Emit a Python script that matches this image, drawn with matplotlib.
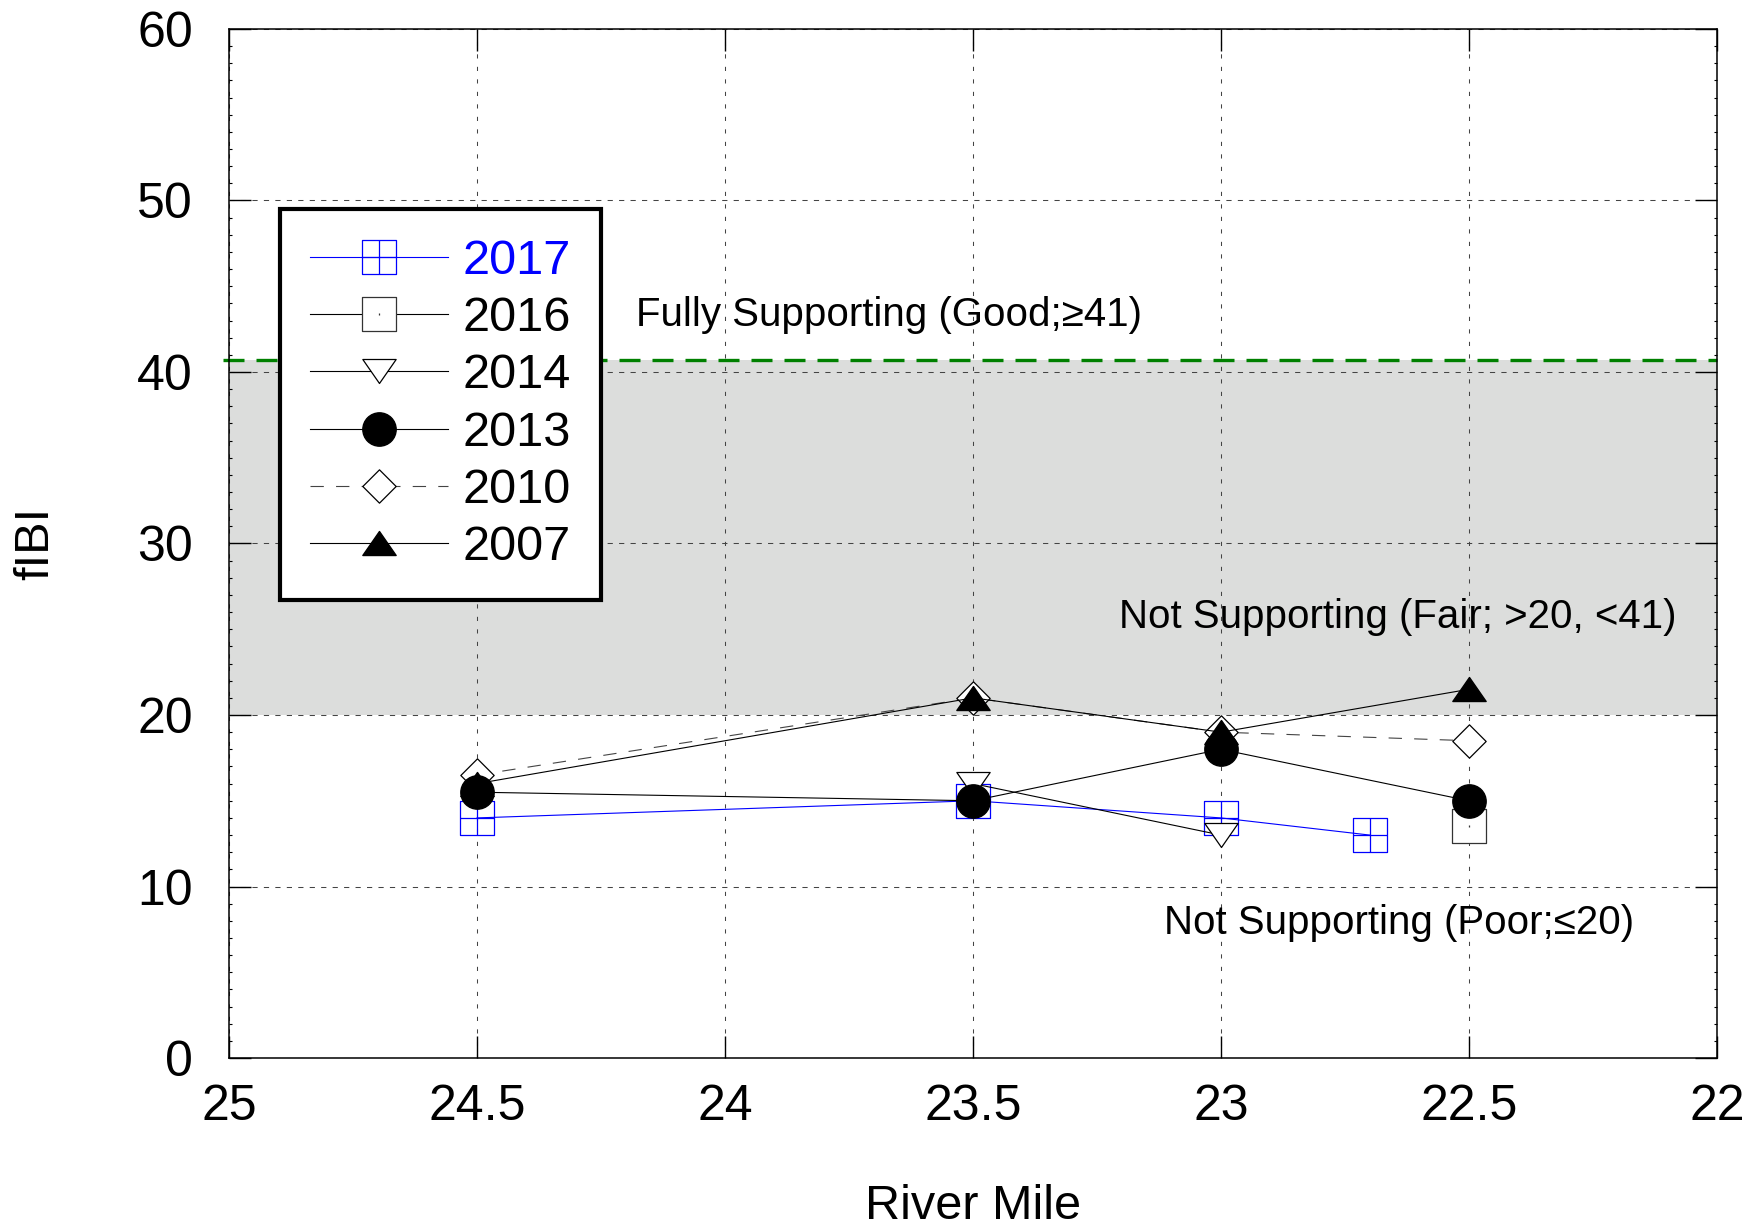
import numpy as np
import matplotlib
matplotlib.use("Agg")
import matplotlib.pyplot as plt
from matplotlib.path import Path
from matplotlib.ticker import MultipleLocator

plt.rcParams['font.family'] = ['Liberation Sans', 'DejaVu Sans']

# river mile / fIBI per year
rm_2017 = [24.5, 23.5, 23.0, 22.7]
ibi_2017 = [14.0, 15.0, 14.0, 13.0]
rm_2016 = [22.5]
ibi_2016 = [13.5]
rm_2014 = [23.5, 23.0]
ibi_2014 = [16.0, 13.0]
rm_2013 = [24.5, 23.5, 23.0, 22.5]
ibi_2013 = [15.5, 15.0, 18.0, 15.0]
rm_2010 = [24.5, 23.5, 23.0, 22.5]
ibi_2010 = [16.5, 21.0, 19.0, 18.5]
rm_2007 = [24.5, 23.5, 23.0, 22.5]
ibi_2007 = [16.0, 21.0, 19.0, 21.5]

xticks = [25, 24.5, 24, 23.5, 23, 22.5, 22]
xtick_labels = ['25', '24.5', '24', '23.5', '23', '22.5', '22']
yticks = [0, 10, 20, 30, 40, 50, 60]

good_line = 40.7
fair_low = 20

# custom markers
M, L, C = Path.MOVETO, Path.LINETO, Path.CLOSEPOLY
sq_plus = Path([(-1, -1), (1, -1), (1, 1), (-1, 1), (-1, -1),
                (-1, 0), (1, 0), (0, -1), (0, 1)],
               [M, L, L, L, C, M, L, M, L])
sq_dot = Path([(-1, -1), (1, -1), (1, 1), (-1, 1), (-1, -1),
               (0, -0.04), (0, 0.04)],
              [M, L, L, L, C, M, L])
tri_up = Path([(0, 0.72), (-1, -0.72), (1, -0.72), (0, 0.72)], [M, L, L, C])
tri_dn = Path([(0, -0.72), (-1, 0.72), (1, 0.72), (0, -0.72)], [M, L, L, C])
diamond = Path([(0, 1), (1, 0), (0, -1), (-1, 0), (0, 1)], [M, L, L, L, C])

fig = plt.figure(figsize=(17.5, 12.32), dpi=100)
ax = fig.add_axes([0.1309, 0.1412, 0.8502, 0.8353])

ax.axhspan(fair_low, good_line, color='#dcdddc', zorder=0.2, lw=0)
ax.axhline(good_line, xmin=-0.004, color='#008000', lw=2.4,
           dashes=(6.3, 3.6), zorder=1.5, clip_on=False)

ms = 24
ax.plot(rm_2017, ibi_2017, color='blue', lw=0.8, marker=sq_plus, ms=ms,
        mfc='none', mec='blue', mew=0.9, label='2017', zorder=2)
ax.plot(rm_2016, ibi_2016, color='black', lw=0.8, marker=sq_dot, ms=ms,
        mfc='white', mec='#333333', mew=0.9, label='2016', zorder=2.1)
ax.plot(rm_2014, ibi_2014, color='black', lw=0.8, marker=tri_dn, ms=ms,
        mfc='white', mec='black', mew=0.9, label='2014', zorder=2.2)
ax.plot(rm_2013, ibi_2013, color='black', lw=0.8, marker='o', ms=ms,
        mfc='black', mec='black', label='2013', zorder=2.3)
ax.plot(rm_2010, ibi_2010, color='#444444', lw=0.8, dashes=(12, 11),
        marker=diamond, ms=ms, mfc='white', mec='black', mew=0.9,
        label='2010', zorder=2.25)
ax.plot(rm_2007, ibi_2007, color='black', lw=0.8, marker=tri_up, ms=ms,
        mfc='black', mec='black', label='2007', zorder=2.4)

ax.set_xlim(25, 22)
ax.set_ylim(0, 60)
ax.set_xticks(xticks)
ax.set_xticklabels(xtick_labels)
ax.set_yticks(yticks)
ax.yaxis.set_minor_locator(MultipleLocator(1))

ax.set_axisbelow(True)
ax.xaxis.grid(True, color='#444444', lw=0.75, dashes=(4, 8))
ax.yaxis.grid(True, color='#444444', lw=0.75, dashes=(5, 6))

ax.tick_params(axis='both', which='major', direction='in', length=16,
               width=1, labelsize=36, top=True, right=True)
ax.tick_params(axis='x', which='major', pad=19)
ax.tick_params(axis='y', which='major', pad=26)
ax.tick_params(axis='y', which='minor', direction='in', length=2.5,
               width=0.8, right=True)
for s in ax.spines.values():
    s.set_linewidth(1.1)

ax.set_xlabel('River Mile', fontsize=35, va='center')
ax.set_ylabel('fIBI', fontsize=35)
ax.xaxis.set_label_coords(0.5, -0.144)
ax.yaxis.set_label_coords(-0.115, 0.5)

ax.text(24.18, 43.3, 'Fully Supporting (Good;\u226541)', fontsize=29,
        ha='left', va='center')
ax.text(23.206, 25.7, 'Not Supporting (Fair; >20, <41)', fontsize=29,
        ha='left', va='center')
ax.text(23.115, 7.9, 'Not Supporting (Poor;\u226420)', fontsize=29,
        ha='left', va='center')

leg = ax.legend(loc='upper left', bbox_to_anchor=(0.034, 0.825),
                borderaxespad=0, fontsize=35, handlelength=2.85,
                handletextpad=0.3, labelspacing=0.25, borderpad=0.62,
                numpoints=1, fancybox=False, framealpha=1,
                edgecolor='black')
leg.get_frame().set_linewidth(3)
leg.get_texts()[0].set_color('blue')

fig.savefig('out.png', dpi=100)
